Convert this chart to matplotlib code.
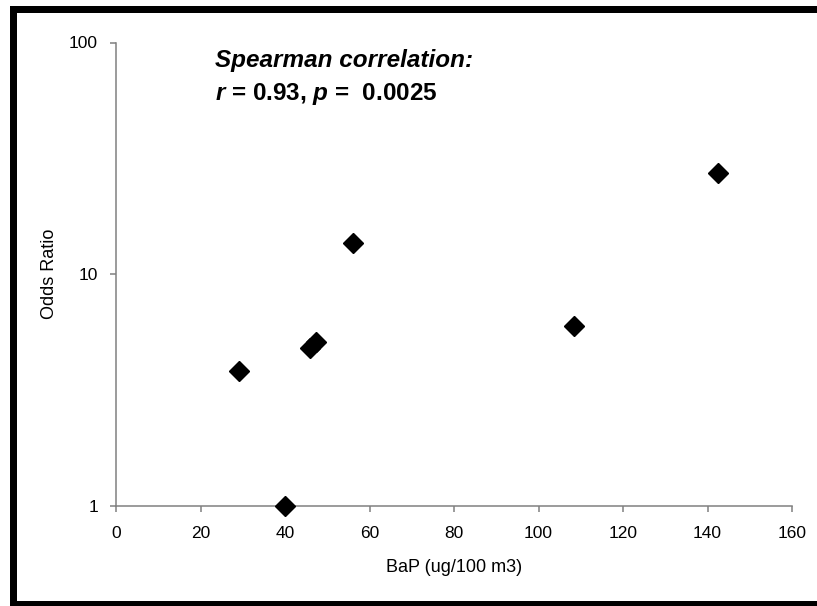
import matplotlib
matplotlib.use("Agg")
import matplotlib.pyplot as plt
from matplotlib.lines import Line2D

plt.rcParams['font.family'] = ['Liberation Sans', 'DejaVu Sans']
plt.rcParams['mathtext.fontset'] = 'custom'
plt.rcParams['mathtext.it'] = 'Liberation Sans:bold:italic'
plt.rcParams['mathtext.rm'] = 'Liberation Sans:bold'

bap = [29, 40, 45.8, 47.4, 56, 108.5, 142.5]
odds_ratio = [3.83, 1.0, 4.8, 5.1, 13.7, 6.0, 27.3]
x_ticks = [0, 20, 40, 60, 80, 100, 120, 140, 160]
y_ticks = [1, 10, 100]
y_tick_labels = ["1", "10", "100"]

fig = plt.figure(figsize=(8.17, 6.06), dpi=100)
ax = fig.add_axes([116/817, 1-506/606, (792-116)/817, (506-42.5)/606])

ax.plot(bap, odds_ratio, linestyle='none', marker='D', markersize=10.5,
        color='black', clip_on=False, zorder=5)

ax.set_yscale('log')
ax.set_xlim(0, 160)
ax.set_ylim(1, 100)
ax.set_xticks(x_ticks)
ax.set_xticklabels([str(t) for t in x_ticks])
ax.set_yticks(y_ticks)
ax.set_yticklabels(y_tick_labels)
ax.yaxis.set_minor_locator(matplotlib.ticker.NullLocator())

for s in ['top', 'right']:
    ax.spines[s].set_visible(False)
for s in ['left', 'bottom']:
    ax.spines[s].set_color('#808080')
    ax.spines[s].set_linewidth(1.1)
ax.tick_params(axis='both', direction='out', length=4.5, width=1.1,
               color='#808080', labelsize=12.5)
ax.tick_params(axis='x', pad=10)
ax.tick_params(axis='y', pad=8.5)

ax.set_xlabel('BaP (ug/100 m3)', fontsize=13, labelpad=13)
ax.set_ylabel('Odds Ratio', fontsize=13, labelpad=8)

ax.text(215/817, 1-66.5/606, 'Spearman correlation:', transform=fig.transFigure,
        fontsize=17.5, fontweight='bold', fontstyle='italic', ha='left', va='baseline')
ax.text(215/817, 1-100/606, r'$r$ = 0.93, $p$ =  0.0025', transform=fig.transFigure,
        fontsize=17.5, fontweight='bold', ha='left', va='baseline')

# thick black frame (right side lies beyond the image)
lw = 7 * 72 / 100
fig.add_artist(Line2D([12.5/817, 1.01], [1-8.5/606, 1-8.5/606], transform=fig.transFigure,
                      color='black', linewidth=lw, solid_capstyle='projecting'))
fig.add_artist(Line2D([12.5/817, 12.5/817], [1-8.5/606, 1-604/606], transform=fig.transFigure,
                      color='black', linewidth=lw, solid_capstyle='projecting'))
fig.add_artist(Line2D([12.5/817, 1.01], [1-604/606, 1-604/606], transform=fig.transFigure,
                      color='black', linewidth=lw, solid_capstyle='projecting'))

fig.savefig('out.png', dpi=100)
